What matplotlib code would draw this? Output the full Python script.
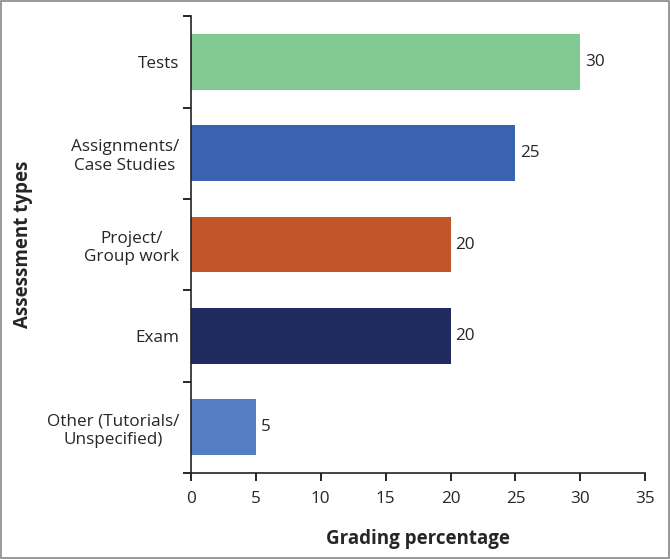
import matplotlib
matplotlib.use("Agg")
import matplotlib.pyplot as plt
from matplotlib.patches import Rectangle
import numpy as np

categories = ["Tests", "Assignments/\nCase Studies", "Project/\nGroup work", "Exam", "Other (Tutorials/\nUnspecified)"]
values = [30, 25, 20, 20, 5]
colors = ["#82C993", "#3A62B0", "#C0562A", "#1F2A5E", "#537EC4"]
xticks = [0, 5, 10, 15, 20, 25, 30, 35]

plt.rcParams['font.family'] = ['Open Sans', 'DejaVu Sans']
txt = "#262626"

fig = plt.figure(figsize=(6.7, 5.59), dpi=100)
ax = fig.add_axes([0.285, 0.154, 0.678, 0.817])

y = np.arange(len(categories))
ax.barh(y, values, height=0.61, color=colors)
for yi, v in zip(y, values):
    ax.text(v + 0.35, yi, str(v), va="center", ha="left", fontsize=12.3, color=txt)

ax.set_xlim(0, 35)
ax.set_ylim(len(categories) - 0.5, -0.5)
ax.set_xticks(xticks)
ax.set_yticks(y)
ax.set_yticklabels(categories, fontsize=12.3, color=txt, ha="right", multialignment="center")
ax.set_yticks(np.arange(-0.5, len(categories), 1), minor=True)
ax.tick_params(axis="y", which="major", length=0, pad=8.5)
ax.tick_params(axis="y", which="minor", length=6, width=1.2, direction="out")
ax.tick_params(axis="x", length=6, width=1.2, direction="out", labelsize=12.3, labelcolor=txt, pad=7)
for s in ["top", "right"]:
    ax.spines[s].set_visible(False)
for s in ["left", "bottom"]:
    ax.spines[s].set_linewidth(1.2)
    ax.spines[s].set_color("#222222")

ax.set_xlabel("Grading percentage", fontsize=13.5, fontweight="bold", color=txt, labelpad=16)
ax.set_ylabel("Assessment types", fontsize=13.5, fontweight="bold", color=txt, labelpad=10)

fig.patches.append(Rectangle((0.001, 0.001), 0.998, 0.998, transform=fig.transFigure,
                             fill=False, edgecolor="#888888", linewidth=1.2))
fig.savefig("out.png", dpi=100)
